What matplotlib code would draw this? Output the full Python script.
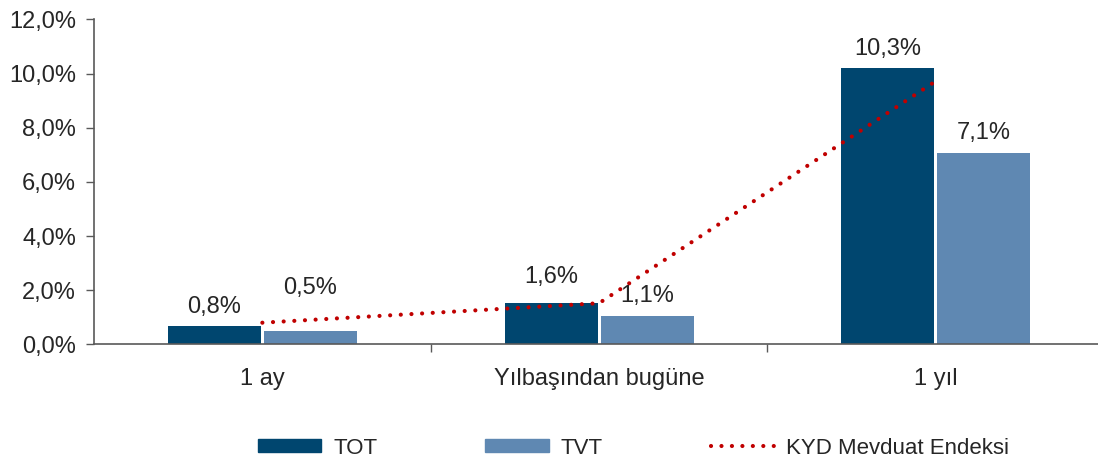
import matplotlib.pyplot as plt
import numpy as np
from matplotlib.lines import Line2D
from matplotlib.patches import Patch

# data
categories = ["1 ay", "Yılbaşından bugüne", "1 yıl"]
tot_values = [0.68, 1.52, 10.2]
tvt_values = [0.48, 1.03, 7.05]
tot_labels = ["0,8%", "1,6%", "10,3%"]
tvt_labels = ["0,5%", "1,1%", "7,1%"]
kyd_values = [0.80, 1.52, 9.72]
y_ticks = [0, 2, 4, 6, 8, 10, 12]

TOT_COLOR = "#00466F"
TVT_COLOR = "#5F88B2"
KYD_COLOR = "#C00000"
TEXT_COLOR = "#262626"
AXIS_COLOR = "#595959"

plt.rcParams["font.family"] = ["Liberation Sans", "DejaVu Sans"]
plt.rcParams["font.size"] = 17

fig = plt.figure(figsize=(10.98, 4.61), dpi=100)
ax = fig.add_axes([0.0856, 0.253, 0.92, 0.705])

x = np.arange(len(categories))
width = 0.276
offset = 0.1425

bars_tot = ax.bar(x - offset, tot_values, width, color=TOT_COLOR, zorder=2)
bars_tvt = ax.bar(x + offset, tvt_values, width, color=TVT_COLOR, zorder=2)

ax.plot(x, kyd_values, color=KYD_COLOR, linewidth=3.0,
        linestyle=(0, (0.01, 2.55)), dash_capstyle="round", zorder=3)

# value labels (a couple nudged up the way the original is)
extra_tot = [0, 5, 0]
extra_tvt = [16, 0, 0]
for bar, text, extra in zip(bars_tot, tot_labels, extra_tot):
    ax.annotate(text, (bar.get_x() + bar.get_width() / 2, bar.get_height()),
                xytext=(0, 14 + extra), textcoords="offset points",
                ha="center", va="center", color=TEXT_COLOR)
for bar, text, extra in zip(bars_tvt, tvt_labels, extra_tvt):
    ax.annotate(text, (bar.get_x() + bar.get_width() / 2, bar.get_height()),
                xytext=(0, 15 + extra), textcoords="offset points",
                ha="center", va="center", color=TEXT_COLOR)

ax.set_xlim(-0.5, 2.5)
ax.set_ylim(0, 12)
ax.set_yticks(y_ticks)
ax.set_yticklabels([f"{v:.1f}%".replace(".", ",") for v in y_ticks])

# boundary ticks as major, category names on minor ticks
ax.set_xticks([0.5, 1.5])
ax.set_xticklabels([])
ax.set_xticks(x, minor=True)
ax.set_xticklabels(categories, minor=True)
ax.tick_params(axis="x", which="major", length=6, width=1, color=AXIS_COLOR)
ax.tick_params(axis="x", which="minor", length=0, pad=17, colors=TEXT_COLOR)
ax.tick_params(axis="y", length=6, width=1, color=AXIS_COLOR, pad=7,
               labelcolor=TEXT_COLOR)

for side in ["top", "right"]:
    ax.spines[side].set_visible(False)
for side in ["left", "bottom"]:
    ax.spines[side].set_color(AXIS_COLOR)
    ax.spines[side].set_linewidth(1.2)

handles = [
    Patch(color=TOT_COLOR, label="TOT"),
    Patch(color=TVT_COLOR, label="TVT"),
    Line2D([0], [0], color=KYD_COLOR, linewidth=3.0,
           linestyle=(0, (0.01, 2.5)), dash_capstyle="round",
           label="KYD Mevduat Endeksi"),
]
fig.legend(handles=handles, loc="center", bbox_to_anchor=(0.577, 0.028),
           ncol=3, frameon=False, fontsize=16, handlelength=2.85,
           handleheight=0.55, handletextpad=0.55, columnspacing=4.85,
           labelcolor=TEXT_COLOR)

plt.savefig("out.png", dpi=100)
plt.close()
